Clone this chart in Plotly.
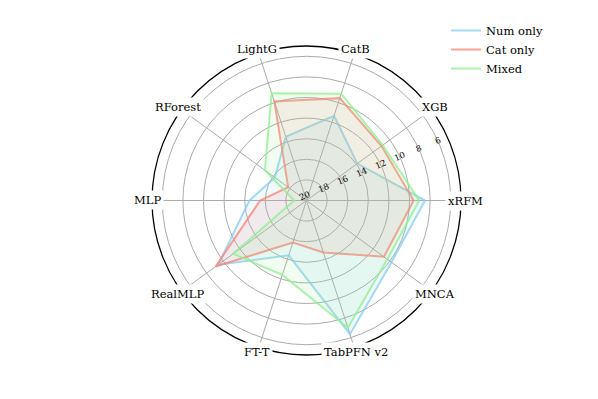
import math
import plotly.graph_objects as go

# ---- data ----
categories = ["xRFM", "XGB", "CatB", "LightG", "RForest", "MLP",
              "RealMLP", "FT-T", "TabPFN v2", "MNCA"]
num_only = [8.5, 13.9, 11.35, 13.5, 16.2, 14.45, 9.4, 14.4, 6.35, 9.8]
cat_only = [9.6, 11.0, 9.55, 9.9, 17.8, 15.5, 9.1, 15.7, 14.7, 10.7]
mixed = [9.05, 10.85, 9.1, 9.05, 15.0, 18.8, 11.2, 12.4, 7.0, 10.3]
series_names = ["Num only", "Cat only", "Mixed"]
radial_ticks = [20, 18, 16, 14, 12, 10, 8, 6]

# ---- style ----
W, H = 598, 399
CX, CY, R = 306.5, 200.5, 154.5
FONT = "DejaVu Serif"
line_cols = ["rgba(135,206,235,0.75)", "rgba(250,128,114,0.75)", "rgba(144,238,144,0.75)"]
fill_cols = ["rgba(135,206,235,0.12)", "rgba(250,128,114,0.12)", "rgba(144,238,144,0.12)"]

fig = go.Figure()
for name, vals, lc, fc in zip(series_names, [num_only, cat_only, mixed], line_cols, fill_cols):
    fig.add_trace(go.Scatterpolar(
        r=vals + vals[:1], theta=categories + categories[:1],
        mode="lines", fill="toself", fillcolor=fc,
        line=dict(color=lc, width=2), showlegend=False, hoverinfo="skip"))
for name, lc in zip(series_names, line_cols):
    fig.add_trace(go.Scatterpolar(
        r=[None], theta=[categories[0]], mode="lines", name=name,
        line=dict(color=lc, width=2)))

# category labels on the rim (white background like the reference)
annotations = []
n = len(categories)
for i, c in enumerate(categories):
    ang = 2 * math.pi * i / n
    rl = 159
    x = (CX + rl * math.cos(ang)) / W
    y = 1 - (CY - rl * math.sin(ang)) / H
    annotations.append(dict(
        x=x, y=y, xref="paper", yref="paper", text=c, showarrow=False,
        xanchor="center", yanchor="middle", bgcolor="white", borderpad=2,
        font=dict(family=FONT, size=11.5, color="black")))

fig.update_layout(
    width=W, height=H,
    margin=dict(l=0, r=0, t=0, b=0),
    paper_bgcolor="white",
    font=dict(family=FONT, color="black"),
    polar=dict(
        domain=dict(x=[(CX - R) / W, (CX + R) / W],
                    y=[1 - (CY + R) / H, 1 - (CY - R) / H]),
        bgcolor="white",
        angularaxis=dict(
            type="category", categoryarray=categories,
            direction="counterclockwise", rotation=0,
            showline=True, linecolor="black", linewidth=1.3,
            gridcolor="#ababab", gridwidth=1, ticks="",
            showticklabels=False),
        radialaxis=dict(
            range=[20, 5], tickvals=radial_ticks,
            ticktext=[str(t) for t in radial_ticks],
            angle=22.5, side="counterclockwise", tickangle=0,
            showline=False, ticks="",
            gridcolor="#ababab", gridwidth=1,
            tickfont=dict(family=FONT, size=8.5, color="black")),
    ),
    legend=dict(x=446 / W, y=1 - 16 / H, xanchor="left", yanchor="top",
                bgcolor="rgba(255,255,255,0)", tracegroupgap=0,
                font=dict(family=FONT, size=11.5, color="black")),
    annotations=annotations,
)

fig.write_html("out.html", config={"displayModeBar": False},
               post_script="document.body.style.margin='0';")
